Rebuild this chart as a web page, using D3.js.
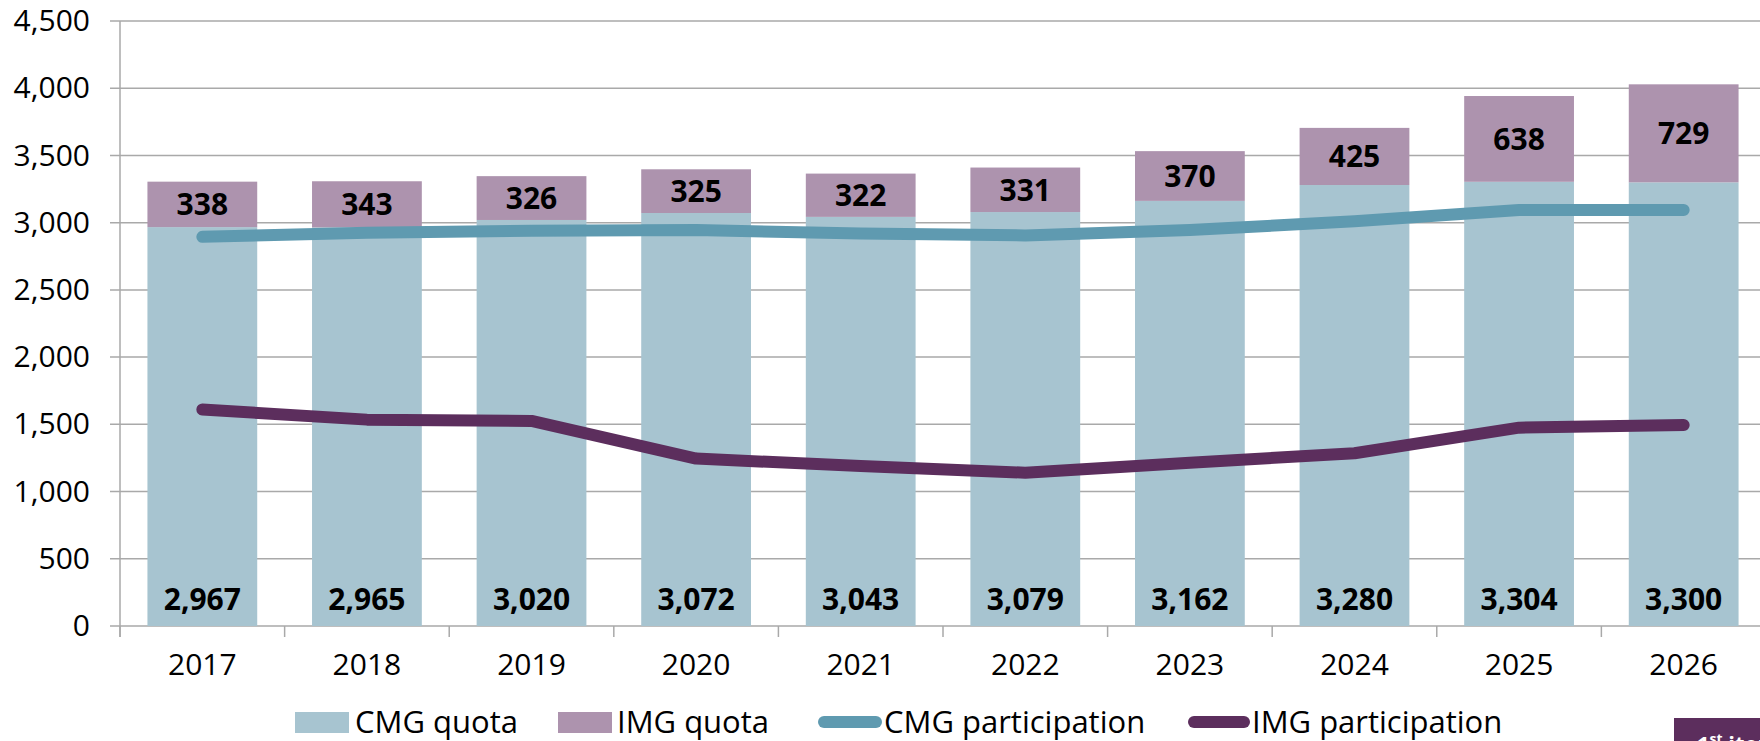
<!DOCTYPE html>
<html>
<head>
<meta charset="utf-8">
<script src="https://cdn.jsdelivr.net/npm/d3@7"></script>
<style>
	body { margin: 0; background: #fff; }
	svg { display: block; font-family: "Open Sans", sans-serif; }
	.tickText { font-size: 30px; fill: #000; font-family: "Open Sans", sans-serif; }
	.barLabel { font-size: 30px; font-weight: bold; fill: #000; text-anchor: middle; }
	.legendText { font-size: 31px; fill: #000; }
</style>
</head>
<body>
<script>

var years = ['2017', '2018', '2019', '2020', '2021', '2022', '2023', '2024', '2025', '2026'];
var cmgQuota = [2967, 2965, 3020, 3072, 3043, 3079, 3162, 3280, 3304, 3300];
var imgQuota = [338, 343, 326, 325, 322, 331, 370, 425, 638, 729];
var cmgParticipation = [2895, 2925, 2940, 2945, 2920, 2905, 2945, 3010, 3095, 3095];
var imgParticipation = [1610, 1535, 1525, 1245, 1190, 1140, 1215, 1285, 1475, 1495];
var yTicks = [0, 500, 1000, 1500, 2000, 2500, 3000, 3500, 4000, 4500];

var width = 1760;
var height = 741;
var plotLeft = 120;
var plotRight = 1766;
var plotTop = 21;
var plotBottom = 626;

var cmgBarColor = '#a7c4d0';
var imgBarColor = '#ad93ae';
var cmgLineColor = '#5f9ab0';
var imgLineColor = '#5c2e5d';
var gridColor = '#a9a9a9';

var svg = d3.select('body').append('svg')
	.attr('width', width)
	.attr('height', height);

var x = d3.scaleBand()
	.domain(years)
	.range([plotLeft, plotRight])
	.paddingInner(0.333)
	.paddingOuter(0.1667);

var y = d3.scaleLinear()
	.domain([0, 4500])
	.range([plotBottom, plotTop]);

// gridlines (they also form the little ticks left of the axis)
svg.append('g')
	.attr('class', 'grid')
	.selectAll('line')
	.data(yTicks)
	.enter()
	.append('line')
	.attr('x1', plotLeft - 10)
	.attr('x2', plotRight)
	.attr('y1', function(d) { return y(d); })
	.attr('y2', function(d) { return y(d); })
	.attr('stroke', gridColor)
	.attr('stroke-width', 1.5);

// y axis labels
var yAxis = svg.append('g')
	.attr('transform', 'translate(' + plotLeft + ',0)')
	.call(d3.axisLeft(y).tickValues(yTicks).tickFormat(d3.format(',')).tickSize(0).tickPadding(30))
	.attr('font-family', null)
	.attr('font-size', null);
yAxis.select('.domain').remove();
yAxis.selectAll('text').attr('class', 'tickText');

svg.append('line')
	.attr('x1', plotLeft)
	.attr('x2', plotLeft)
	.attr('y1', plotTop)
	.attr('y2', plotBottom + 11)
	.attr('stroke', gridColor)
	.attr('stroke-width', 1.5);

// x axis labels + category ticks
var xAxis = svg.append('g')
	.attr('transform', 'translate(0,' + plotBottom + ')')
	.call(d3.axisBottom(x).tickSize(0).tickPadding(28))
	.attr('font-family', null)
	.attr('font-size', null);
xAxis.select('.domain').remove();
xAxis.selectAll('text').attr('class', 'tickText');

var gap = (x.step() - x.bandwidth()) / 2;
svg.append('g')
	.selectAll('line')
	.data(years)
	.enter()
	.append('line')
	.attr('x1', function(d) { return x(d) - gap; })
	.attr('x2', function(d) { return x(d) - gap; })
	.attr('y1', plotBottom)
	.attr('y2', plotBottom + 11)
	.attr('stroke', gridColor)
	.attr('stroke-width', 1.5);

// stacked bars
var bars = svg.append('g').attr('id', 'bars');

bars.selectAll('rect.cmg')
	.data(years)
	.enter()
	.append('rect')
	.attr('class', 'cmg')
	.attr('x', function(d) { return x(d); })
	.attr('y', function(d, i) { return y(cmgQuota[i]); })
	.attr('width', x.bandwidth())
	.attr('height', function(d, i) { return y(0) - y(cmgQuota[i]); })
	.attr('fill', cmgBarColor);

bars.selectAll('rect.img')
	.data(years)
	.enter()
	.append('rect')
	.attr('class', 'img')
	.attr('x', function(d) { return x(d); })
	.attr('y', function(d, i) { return y(cmgQuota[i] + imgQuota[i]); })
	.attr('width', x.bandwidth())
	.attr('height', function(d, i) { return y(cmgQuota[i]) - y(cmgQuota[i] + imgQuota[i]); })
	.attr('fill', imgBarColor);

// lines
var line = d3.line()
	.x(function(d, i) { return x(years[i]) + x.bandwidth() / 2; })
	.y(function(d) { return y(d); });

svg.append('path')
	.datum(cmgParticipation)
	.attr('d', line)
	.attr('fill', 'none')
	.attr('stroke', cmgLineColor)
	.attr('stroke-width', 12)
	.attr('stroke-linecap', 'round')
	.attr('stroke-linejoin', 'round');

svg.append('path')
	.datum(imgParticipation)
	.attr('d', line)
	.attr('fill', 'none')
	.attr('stroke', imgLineColor)
	.attr('stroke-width', 12)
	.attr('stroke-linecap', 'round')
	.attr('stroke-linejoin', 'round');

// value labels
var fmt = d3.format(',');

svg.append('g')
	.selectAll('text')
	.data(years)
	.enter()
	.append('text')
	.attr('class', 'barLabel')
	.attr('x', function(d) { return x(d) + x.bandwidth() / 2; })
	.attr('y', y(0) - 16)
	.text(function(d, i) { return fmt(cmgQuota[i]); });

svg.append('g')
	.selectAll('text')
	.data(years)
	.enter()
	.append('text')
	.attr('class', 'barLabel')
	.attr('x', function(d) { return x(d) + x.bandwidth() / 2; })
	.attr('y', function(d, i) { return (y(cmgQuota[i]) + y(cmgQuota[i] + imgQuota[i])) / 2 + 11; })
	.text(function(d, i) { return fmt(imgQuota[i]); });

// legend
var legendItems = [
	{ name: 'CMG quota', type: 'rect', color: cmgBarColor, x: 295, len: 54, tx: 355 },
	{ name: 'IMG quota', type: 'rect', color: imgBarColor, x: 558, len: 54, tx: 617 },
	{ name: 'CMG participation', type: 'line', color: cmgLineColor, x: 824, len: 52, tx: 884 },
	{ name: 'IMG participation', type: 'line', color: imgLineColor, x: 1194, len: 50, tx: 1252 }
];
var legendY = 722;

var legend = svg.append('g').attr('id', 'legend');

legend.selectAll('rect')
	.data(legendItems.filter(function(d) { return d.type == 'rect'; }))
	.enter()
	.append('rect')
	.attr('x', function(d) { return d.x; })
	.attr('y', legendY - 10)
	.attr('width', function(d) { return d.len; })
	.attr('height', 21)
	.attr('fill', function(d) { return d.color; });

legend.selectAll('line')
	.data(legendItems.filter(function(d) { return d.type == 'line'; }))
	.enter()
	.append('line')
	.attr('x1', function(d) { return d.x; })
	.attr('x2', function(d) { return d.x + d.len; })
	.attr('y1', legendY)
	.attr('y2', legendY)
	.attr('stroke', function(d) { return d.color; })
	.attr('stroke-width', 12)
	.attr('stroke-linecap', 'round');

legend.selectAll('text')
	.data(legendItems)
	.enter()
	.append('text')
	.attr('class', 'legendText')
	.attr('x', function(d) { return d.tx; })
	.attr('y', legendY + 11)
	.text(function(d) { return d.name; });

// the little tag cut off in the corner
svg.append('rect')
	.attr('x', 1674)
	.attr('y', 718)
	.attr('width', 100)
	.attr('height', 40)
	.attr('fill', imgLineColor);

var tag = svg.append('text')
	.attr('x', 1697)
	.attr('y', 752)
	.attr('fill', '#fff')
	.attr('font-size', 22)
	.attr('font-weight', 'bold');
tag.append('tspan').text('1');
tag.append('tspan').attr('font-size', 14).attr('dy', -8).text('st');
tag.append('tspan').attr('dy', 8).text(' iteration');

</script>
</body>
</html>
